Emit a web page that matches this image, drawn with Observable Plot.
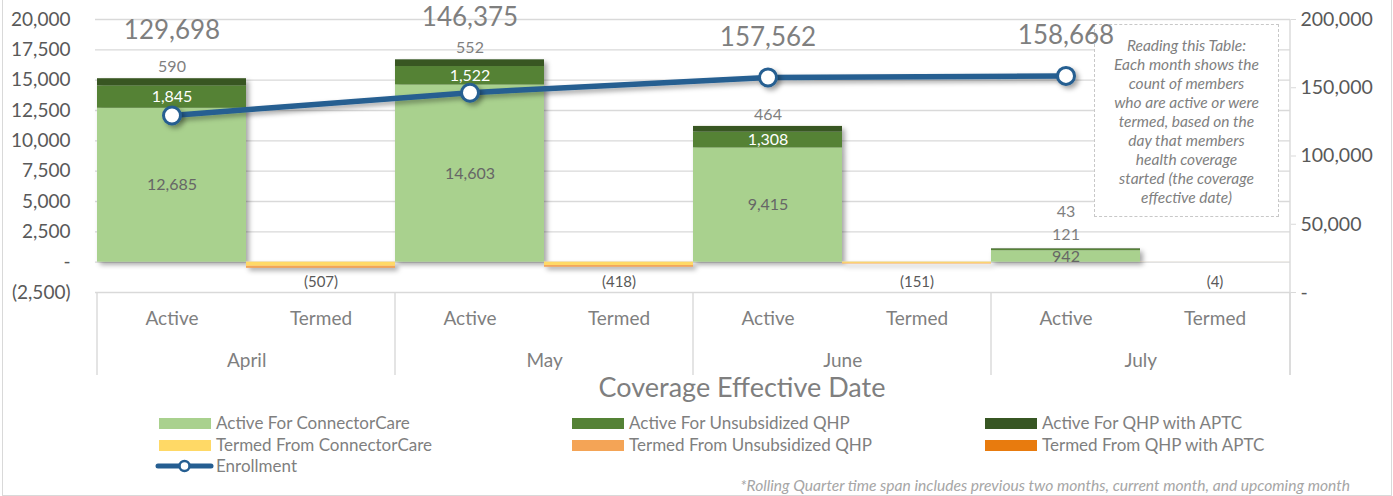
<!DOCTYPE html>
<html><head><meta charset="utf-8">
<script src="https://cdn.jsdelivr.net/npm/d3@7"></script>
<script src="https://cdn.jsdelivr.net/npm/@observablehq/plot@0.6"></script>
<style>
body{margin:0;background:#fff;font-family:Lato,"Open Sans",sans-serif;}
#wrap{position:relative;width:1393px;height:496px;overflow:hidden;background:#fff;}
#frame{position:absolute;left:2px;top:-1px;width:1390px;height:497px;box-sizing:border-box;border:1px solid #d9d9d9;}
#chart{position:absolute;left:0;top:0;}
.note{width:185px;height:193px;box-sizing:border-box;border:1.5px dashed #c8c8c8;background:#fff;
  font-family:Lato,sans-serif;font-style:italic;font-size:15.5px;line-height:19px;color:#7f7f7f;text-align:center;padding-top:11px;margin:0;}
.lg{position:absolute;font-size:17px;color:#7f7f7f;white-space:nowrap;line-height:20px;}
.sw{position:absolute;width:52px;height:11px;}
#title{position:absolute;left:442px;width:600px;top:370px;text-align:center;font-size:27px;color:#7f7f7f;line-height:34px;}
#foot{position:absolute;right:43px;top:475px;font-style:italic;font-size:15.6px;color:#a6a6a6;white-space:nowrap;line-height:20px;}
</style></head><body>
<div id="wrap"><div id="frame"></div></div>
<script>
// ---------- data ----------
const months = ["April", "May", "June", "July"];
const statuses = ["Active", "Termed"];
const seriesNames = [
  "Active For ConnectorCare", "Active For Unsubsidized QHP", "Active For QHP with APTC",
  "Termed From ConnectorCare", "Termed From Unsubsidized QHP", "Termed From QHP with APTC"
];
const seriesColors = ["#a9d18e", "#548235", "#375623", "#ffd966", "#f4a456", "#e87b0e"];
const activeConnectorCare = [12685, 14603, 9415, 942];
const activeUnsubsidized = [1845, 1522, 1308, 121];
const activeAPTC = [590, 552, 464, 43];
const termedConnectorCare = [-340, -280, -100, -3];
const termedUnsubsidized = [-140, -118, -45, -1];
const termedAPTC = [-27, -20, -6, 0];
const enrollment = [129698, 146375, 157562, 158668];
const leftTicks = [-2500, 0, 2500, 5000, 7500, 10000, 12500, 15000, 17500, 20000];
const rightTicks = [0, 50000, 100000, 150000, 200000];
const noteLines = ["Reading this Table:", "Each month shows the", "count of members", "who are active or were",
  "termed, based on the", "day that members", "health coverage", "started (the coverage", "effective date)"];
const axisTitle = "Coverage Effective Date";
const footnote = "*Rolling Quarter time span includes previous two months, current month, and upcoming month";
const legendName = "Enrollment";

// ---------- helpers ----------
const fmt = d3.format(",");
const fmtAcct = v => v === 0 ? "-" : v < 0 ? "(" + fmt(-v) + ")" : fmt(v);
const leftMin = -2500, leftMax = 20000, rightMax = 200000;
const toLeft = v => leftMin + v * (leftMax - leftMin) / rightMax;
const toRight = v => (v - leftMin) * rightMax / (leftMax - leftMin);
const key = (m, s) => m + "|" + s;
const xDomain = months.flatMap(m => statuses.map(s => key(m, s)));

const W = 1393, H = 400, mT = 19, mB = 108, mL = 95, mR = 103;
const bandW = (W - mL - mR) / xDomain.length;
const pxPerUnit = (H - mT - mB) / (leftMax - leftMin);

const rows = [];
months.forEach((m, i) => {
  const a = key(m, "Active"), t = key(m, "Termed");
  [activeConnectorCare, activeUnsubsidized, activeAPTC].forEach((arr, j) =>
    rows.push({x: a, series: seriesNames[j], value: arr[i]}));
  [termedConnectorCare, termedUnsubsidized, termedAPTC].forEach((arr, j) =>
    rows.push({x: t, series: seriesNames[3 + j], value: arr[i]}));
});

const ccLabels = months.map((m, i) => ({x: key(m, "Active"), y: activeConnectorCare[i] / 2, text: fmt(activeConnectorCare[i])}));
const unsubInside = [], unsubOutside = [], aptcLabels = [];
months.forEach((m, i) => {
  const total = activeConnectorCare[i] + activeUnsubsidized[i] + activeAPTC[i];
  const inside = activeUnsubsidized[i] * pxPerUnit >= 14;
  if (inside) unsubInside.push({x: key(m, "Active"), y: activeConnectorCare[i] + activeUnsubsidized[i] / 2, text: fmt(activeUnsubsidized[i])});
  else unsubOutside.push({x: key(m, "Active"), y: total, text: fmt(activeUnsubsidized[i])});
  aptcLabels.push({x: key(m, "Active"), y: total, text: fmt(activeAPTC[i]), lift: inside ? -12 : -37});
});
const termLabels = months.map((m, i) => ({x: key(m, "Termed"),
  text: fmtAcct(termedConnectorCare[i] + termedUnsubsidized[i] + termedAPTC[i])}));
const enrollRows = months.map((m, i) => ({x: key(m, "Active"), y: toLeft(enrollment[i]), text: fmt(enrollment[i])}));
const enrollLift = [-85, -75, -40, -40];

function liftRender(list, getLift) {
  return function(index, scales, values, dims, ctx, next) {
    const g = next(index, scales, values, dims, ctx);
    d3.select(g).selectAll("text").each(function(_, k) {
      d3.select(this).attr("dy", getLift(index[k]) + "px");
    });
    return g;
  };
}

const plot = Plot.plot({
  width: W, height: H, marginTop: mT, marginBottom: mB, marginLeft: mL, marginRight: mR,
  style: {fontFamily: "Lato, 'Open Sans', sans-serif", background: "transparent", overflow: "visible"},
  x: {type: "band", domain: xDomain, padding: 0, axis: null},
  y: {domain: [leftMin, leftMax], axis: null},
  color: {domain: seriesNames, range: seriesColors},
  marks: [
    Plot.gridY(leftTicks, {stroke: "#d9d9d9", strokeOpacity: 1, strokeWidth: 1.4}),
    Plot.axisY(leftTicks, {anchor: "left", tickSize: 0, tickPadding: 25, tickFormat: fmtAcct, fontSize: 19, fill: "#595959"}),
    Plot.axisY(rightTicks.map(toLeft), {anchor: "right", tickSize: 5, tickPadding: 5, stroke: "#d9d9d9",
      tickFormat: v => fmtAcct(Math.round(toRight(v))), fontSize: 19.5, fill: "#595959"}),
    Plot.barY(rows, Plot.stackY({x: "x", y: "value", fill: "series", order: seriesNames})),
    Plot.text(ccLabels, {x: "x", y: "y", text: "text", fill: "#666666", fontSize: 16}),
    Plot.text(unsubInside, {x: "x", y: "y", text: "text", fill: "#ffffff", fontSize: 16}),
    Plot.text(unsubOutside, {x: "x", y: "y", text: "text", fill: "#7f7f7f", fontSize: 16, dy: -14}),
    Plot.text(aptcLabels, {x: "x", y: "y", text: "text", fill: "#7f7f7f", fontSize: 16,
      render: liftRender(aptcLabels, i => aptcLabels[i].lift)}),
    Plot.text(termLabels, {x: "x", text: "text", frameAnchor: "bottom", dy: -6, fill: "#595959", fontSize: 15}),
    Plot.text(xDomain, {x: d => d, text: d => d.split("|")[1], frameAnchor: "bottom", dy: 32, fill: "#7f7f7f", fontSize: 19}),
    Plot.text(months, {x: m => key(m, "Active"), text: d => d, dx: bandW / 2, frameAnchor: "bottom", dy: 74, fill: "#7f7f7f", fontSize: 19}),
    Plot.line(enrollRows, {x: "x", y: "y", stroke: "#255e91", strokeWidth: 5.5}),
    Plot.dot(enrollRows, {x: "x", y: "y", r: 8.5, fill: "#ffffff", stroke: "#255e91", strokeWidth: 3}),
    Plot.text(enrollRows, {x: "x", y: "y", text: "text", fill: "#7f7f7f", fontSize: 26,
      render: liftRender(enrollRows, i => enrollLift[i])})
  ]
});
plot.id = "chart";

// decoration: shadows and category separators using the plot's scales
const svg = d3.select(plot);
const defs = svg.insert("defs", ":first-child");
const f = defs.append("filter").attr("id", "shadow").attr("x", "-10%").attr("y", "-10%").attr("width", "130%").attr("height", "140%");
f.append("feDropShadow").attr("dx", 3).attr("dy", 3).attr("stdDeviation", 2.5).attr("flood-color", "#000").attr("flood-opacity", 0.35);
svg.selectAll('g[aria-label="bar"]').attr("filter", "url(#shadow)");
svg.selectAll('g[aria-label="line"]').attr("filter", "url(#shadow)");
svg.selectAll('g[aria-label="dot"]').attr("filter", "url(#shadow)");

const xs = plot.scale("x"), ys = plot.scale("y");
const catBottom = H - mB + 83;
const sepG = svg.append("g").attr("stroke", "#d9d9d9").attr("stroke-width", 1.4);
const edges = months.map(m => xs.apply(key(m, "Active"))).concat([W - mR]);
edges.forEach(xp => sepG.append("line").attr("x1", xp).attr("x2", xp).attr("y1", ys.apply(leftMin)).attr("y2", catBottom));
sepG.append("line").attr("x1", W - mR).attr("x2", W - mR).attr("y1", ys.apply(leftMax)).attr("y2", catBottom);

// note box inside svg, beneath the enrollment labels
const textGroups = svg.selectAll('g[aria-label="text"]').nodes();
const lastText = textGroups[textGroups.length - 1];
const fo = document.createElementNS("http://www.w3.org/2000/svg", "foreignObject");
fo.setAttribute("x", 1094); fo.setAttribute("y", 24); fo.setAttribute("width", 186); fo.setAttribute("height", 194);
const nd = document.createElement("div");
nd.className = "note";
nd.innerHTML = noteLines.join("<br>");
fo.appendChild(nd);
lastText.parentNode.insertBefore(fo, lastText);

const wrap = document.getElementById("wrap");
wrap.appendChild(plot);

// axis title
const title = document.createElement("div");
title.id = "title"; title.textContent = axisTitle;
wrap.appendChild(title);

// legend
const cols = [159, 572, 985];
const rowsY = [423, 445];
seriesNames.forEach((s, i) => {
  const c = i % 3, r = Math.floor(i / 3);
  const sw = document.createElement("div");
  sw.className = "sw"; sw.style.left = cols[c] + "px"; sw.style.top = (rowsY[r] - 5.5) + "px"; sw.style.background = seriesColors[i];
  wrap.appendChild(sw);
  const t = document.createElement("div");
  t.className = "lg"; t.style.left = (cols[c] + 57) + "px"; t.style.top = (rowsY[r] - 10) + "px"; t.textContent = s;
  wrap.appendChild(t);
});
const ls = document.createElementNS("http://www.w3.org/2000/svg", "svg");
ls.setAttribute("width", 60); ls.setAttribute("height", 20);
ls.style.position = "absolute"; ls.style.left = "154px"; ls.style.top = "456px";
ls.innerHTML = '<line x1="4" x2="57" y1="10" y2="10" stroke="#255e91" stroke-width="5" stroke-linecap="round"/>' +
  '<circle cx="30.5" cy="10" r="5" fill="#fff" stroke="#255e91" stroke-width="2.5"/>';
wrap.appendChild(ls);
const le = document.createElement("div");
le.className = "lg"; le.style.left = "216px"; le.style.top = "456px"; le.textContent = legendName;
wrap.appendChild(le);

const foot = document.createElement("div");
foot.id = "foot"; foot.textContent = footnote;
wrap.appendChild(foot);
</script>
</body></html>
